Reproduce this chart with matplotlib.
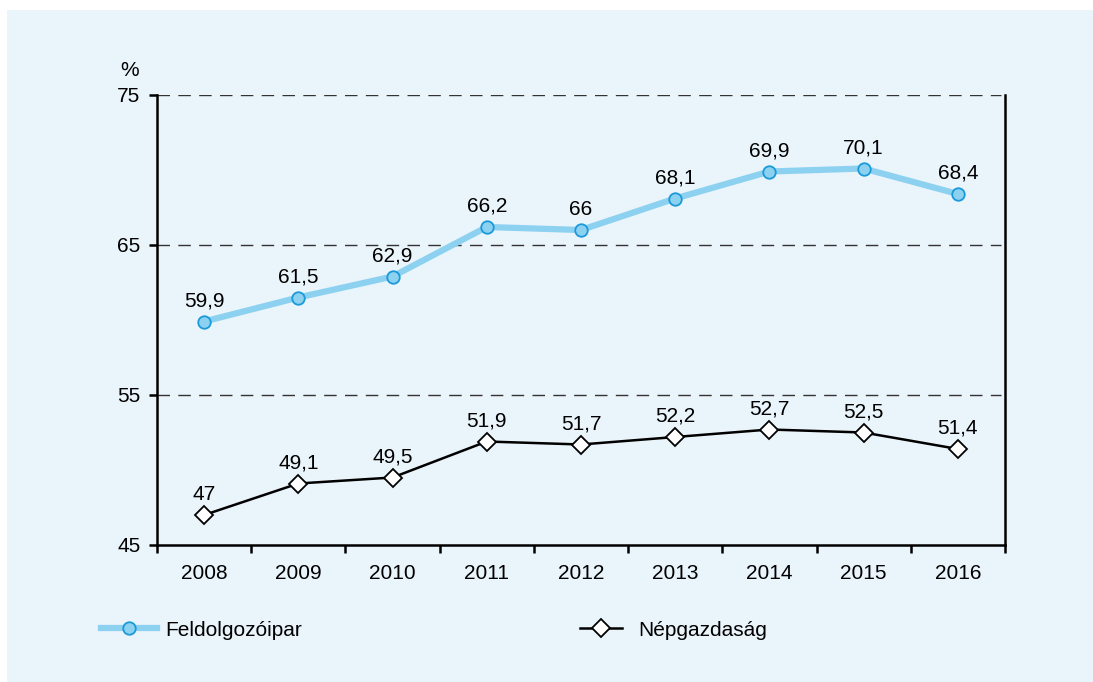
import matplotlib.pyplot as plt
from matplotlib.patches import Rectangle
from matplotlib.lines import Line2D

plt.rcParams['font.family'] = ['Liberation Sans', 'DejaVu Sans']

years = ['2008', '2009', '2010', '2011', '2012', '2013', '2014', '2015', '2016']
feldolgozoipar = [59.9, 61.5, 62.9, 66.2, 66.0, 68.1, 69.9, 70.1, 68.4]
nepgazdasag = [47.0, 49.1, 49.5, 51.9, 51.7, 52.2, 52.7, 52.5, 51.4]
labels_f = ['59,9', '61,5', '62,9', '66,2', '66', '68,1', '69,9', '70,1', '68,4']
labels_n = ['47', '49,1', '49,5', '51,9', '51,7', '52,2', '52,7', '52,5', '51,4']

bg = '#EAF4FB'
light_blue = '#8DD1F1'
edge_blue = '#1A9AD9'
fs = 15

fig = plt.figure(figsize=(10.93, 6.82), dpi=100, facecolor='white')
fig.patches.append(Rectangle((7/1093, 0), 1 - 7/1093, 1 - 10/682, transform=fig.transFigure,
                             facecolor=bg, edgecolor='none', zorder=-10))

ax = fig.add_axes([157/1093, 1 - 545/682, 848/1093, 450/682])
ax.set_facecolor('none')

x = list(range(len(years)))
ax.plot(x, feldolgozoipar, color=light_blue, lw=4.5, marker='o', markersize=9,
        markerfacecolor=light_blue, markeredgecolor=edge_blue, markeredgewidth=1.3, zorder=3)
ax.plot(x, nepgazdasag, color='black', lw=1.8, marker='D', markersize=9,
        markerfacecolor='white', markeredgecolor='black', markeredgewidth=1.3, zorder=3)

for xi, v, t in zip(x, feldolgozoipar, labels_f):
    ax.annotate(t, (xi, v), xytext=(0, 8), textcoords='offset points', ha='center', va='bottom', fontsize=fs)
for xi, v, t in zip(x, nepgazdasag, labels_n):
    ax.annotate(t, (xi, v), xytext=(0, 8), textcoords='offset points', ha='center', va='bottom', fontsize=fs)

for yv in [55, 65, 75]:
    ax.axhline(yv, xmin=0, xmax=0.995, color='#333333', lw=1, dashes=(9, 6), zorder=1)

ax.set_xlim(-0.5, 8.5)
ax.set_ylim(45, 75)
ax.set_yticks([45, 55, 65, 75])
ax.tick_params(axis='y', direction='out', length=6, width=1.8, pad=6, labelsize=fs)

ax.set_xticks([i - 0.5 for i in range(len(years) + 1)])
ax.set_xticklabels([])
ax.set_xticks(x, minor=True)
ax.set_xticklabels(years, minor=True)
ax.tick_params(axis='x', which='major', direction='out', length=6, width=1.8)
ax.tick_params(axis='x', which='minor', length=0, pad=14, labelsize=fs)

ax.spines['top'].set_visible(False)
for s in ['left', 'right', 'bottom']:
    ax.spines[s].set_linewidth(1.8)

fig.text(130/1093, 1 - 70/682, '%', ha='center', va='center', fontsize=fs)

h1 = Line2D([], [], color=light_blue, lw=4.5, marker='o', markersize=9,
            markerfacecolor=light_blue, markeredgecolor=edge_blue, markeredgewidth=1.3)
h2 = Line2D([], [], color='black', lw=1.8, marker='D', markersize=9,
            markerfacecolor='white', markeredgecolor='black', markeredgewidth=1.3)
fig.legend([h1], ['Feldolgozóipar'], loc='center left', bbox_to_anchor=(101/1093, 1 - 630/682),
           frameon=False, fontsize=fs, handlelength=2.7, handletextpad=0.4, borderpad=0, borderaxespad=0)
fig.legend([h2], ['Népgazdaság'], loc='center left', bbox_to_anchor=(580/1093, 1 - 630/682),
           frameon=False, fontsize=fs, handlelength=2.0, handletextpad=0.8, borderpad=0, borderaxespad=0)

fig.savefig('out.png', dpi=100, facecolor='white')
